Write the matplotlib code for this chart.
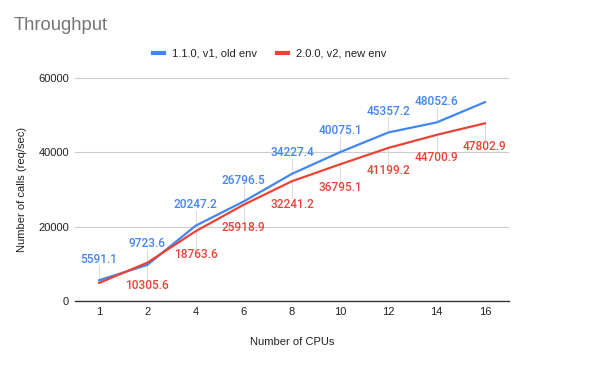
import matplotlib.pyplot as plt

plt.rcParams['font.family'] = ['Liberation Sans', 'DejaVu Sans']

cpus = ['1', '2', '4', '6', '8', '10', '12', '14', '16']
old_env = [5591.1, 9723.6, 20247.2, 26796.5, 34227.4, 40075.1, 45357.2, 48052.6, 53500]
new_env = [4870, 10305.6, 18763.6, 25918.9, 32241.2, 36795.1, 41199.2, 44700.9, 47802.9]
# labels that are shown in the reference (None = no label)
old_labels = ['5591.1', '9723.6', '20247.2', '26796.5', '34227.4', '40075.1', '45357.2', '48052.6', None]
new_labels = [None, '10305.6', '18763.6', '25918.9', '32241.2', '36795.1', '41199.2', '44700.9', '47802.9']

blue = '#4285F4'
red = '#EA4335'
txt = '#222222'

fig = plt.figure(figsize=(5.94, 3.65), dpi=100)
ax = fig.add_axes([0.1263, 0.1753, 0.7306, 0.611])

x = range(len(cpus))
ax.plot(x, old_env, color=blue, lw=1.6, label='1.1.0, v1, old env', zorder=3)
ax.plot(x, new_env, color=red, lw=1.6, label='2.0.0, v2, new env', zorder=3)

# data labels with thin leader lines (21px above / 23px below)
px = 20000 / 74.0
for i in x:
    if old_labels[i]:
        ly = old_env[i] + 21 * px
        ax.plot([i, i], [old_env[i], ly - 6 * px], color='#dddddd', lw=0.8, zorder=1)
        ax.text(i, ly, old_labels[i], color=blue, ha='center', va='center',
                fontsize=8.6, fontweight='medium', family='Roboto')
    if new_labels[i]:
        ly = new_env[i] - 23 * px
        ax.plot([i, i], [new_env[i], ly + 6 * px], color='#dddddd', lw=0.8, zorder=1)
        ax.text(i, ly, new_labels[i], color=red, ha='center', va='center',
                fontsize=8.6, fontweight='medium', family='Roboto')

ax.set_xlim(-0.5, len(cpus) - 0.5)
ax.set_ylim(0, 60000)
ax.set_xticks(list(x))
ax.set_xticklabels(cpus)
ax.set_yticks([0, 20000, 40000, 60000])
ax.tick_params(length=0, labelsize=8, colors=txt)
ax.tick_params(axis='y', pad=4.3)
ax.tick_params(axis='x', pad=4.0)
ax.grid(axis='y', color='#cccccc', lw=0.8)
ax.set_axisbelow(True)
for s in ['top', 'right', 'left']:
    ax.spines[s].set_visible(False)
ax.spines['bottom'].set_color('#333333')
ax.spines['bottom'].set_linewidth(1.0)

ax.set_xlabel('Number of CPUs', fontsize=8, color=txt)
ax.xaxis.set_label_coords(0.5, -0.184)
ax.xaxis.label.set_va('center')
ax.set_ylabel('Number of calls (req/sec)', fontsize=8, color=txt)
ax.yaxis.set_label_coords(-0.122, 0.5)
ax.yaxis.label.set_va('center')

fig.text(14 / 594, 1 - 25 / 365, 'Throughput', fontsize=13.2, color='#757575',
         ha='left', va='center')

fig.legend(loc='center left', bbox_to_anchor=(153 / 594, 1 - 54 / 365), ncol=2,
           frameon=False, borderpad=0, borderaxespad=0,
           fontsize=8, handlelength=0.99, handletextpad=0.72, columnspacing=1.8,
           labelcolor=txt)
for h in fig.legends[0].legend_handles:
    h.set_linewidth(3)

fig.savefig('out.png', dpi=100)
